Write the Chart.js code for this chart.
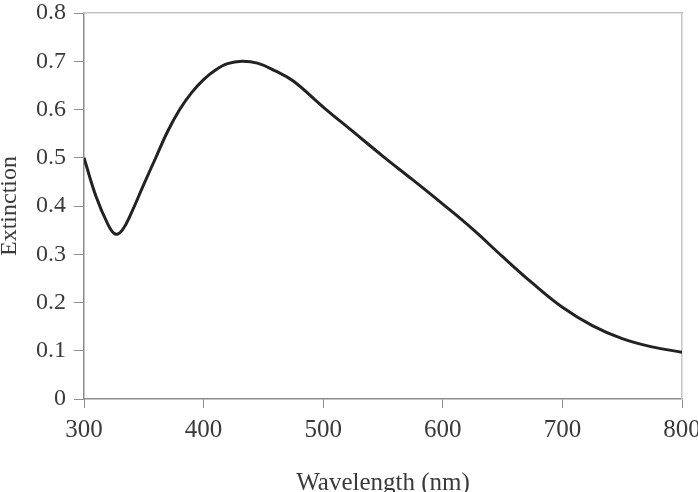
<!DOCTYPE html>
<html>
<head>
<meta charset="utf-8">
<script src="https://cdn.jsdelivr.net/npm/chart.js@4/dist/chart.umd.min.js"></script>
<style>
  html, body { margin: 0; padding: 0; background: #fff; overflow: hidden; }
  #wrap { width: 698px; height: 492px; }
</style>
</head>
<body>
<div id="wrap"><canvas id="chart"></canvas></div>
<script>
// Spectre d'extinction
const wavelengths = [300, 310, 320, 326, 332, 340, 350, 360, 370, 380, 390, 400, 410, 420, 432, 445, 460, 475, 500, 525, 550, 575, 600, 625, 650, 675, 700, 725, 750, 775, 800];
const extinction  = [0.50, 0.42, 0.362, 0.342, 0.35, 0.388, 0.445, 0.50, 0.555, 0.60, 0.635, 0.662, 0.682, 0.695, 0.70, 0.696, 0.68, 0.659, 0.605, 0.554, 0.503, 0.454, 0.404, 0.352, 0.295, 0.24, 0.19, 0.152, 0.125, 0.108, 0.097];

const xTicks = [300, 400, 500, 600, 700, 800];
const yTicks = [0, 0.1, 0.2, 0.3, 0.4, 0.5, 0.6, 0.7, 0.8];

const FONT = "'Liberation Serif', 'Times New Roman', serif";
const TEXT = "#3a3a3a";
const AXIS = "#8c8c8c";
const FRAME = "#c4c4c4";

new Chart(document.getElementById("chart"), {
  type: "line",
  data: {
    datasets: [{
      data: wavelengths.map((w, i) => ({ x: w, y: extinction[i] })),
      borderColor: "#222",
      borderWidth: 3,
      pointRadius: 0,
      fill: false,
      tension: 0.4
    }]
  },
  options: {
    responsive: true,
    maintainAspectRatio: false,
    animation: false,
    layout: { padding: { top: 13, right: 16, left: 0, bottom: 0 } },
    plugins: { legend: { display: false }, tooltip: { enabled: false } },
    scales: {
      x: {
        type: "linear",
        min: 300, max: 800,
        afterBuildTicks: s => { s.ticks = xTicks.map(v => ({ value: v })); },
        afterFit: s => { s.height = 93; s.paddingLeft = 0; s.paddingRight = 0; },
        ticks: { color: TEXT, font: { family: FONT, size: 25 }, padding: 7, maxRotation: 0 },
        grid: { drawOnChartArea: false, tickLength: 9, color: AXIS },
        border: { color: AXIS, width: 1.5 },
        title: { display: true, text: "Wavelength (nm)", color: TEXT, font: { family: FONT, size: 25 }, padding: { top: 0, bottom: -6 } }
      },
      y: {
        min: 0, max: 0.8,
        afterBuildTicks: s => { s.ticks = yTicks.map(v => ({ value: v })); },
        afterFit: s => { s.width = 84; s.paddingTop = 0; s.paddingBottom = 0; },
        ticks: { color: TEXT, font: { family: FONT, size: 24 }, padding: 8, callback: v => String(v) },
        grid: { drawOnChartArea: false, tickLength: 10, color: AXIS },
        border: { color: AXIS, width: 1.5 },
        title: { display: true, text: "Extinction", color: TEXT, font: { family: FONT, size: 24 }, padding: { top: -5, bottom: 0 } }
      },
      xTop: {
        type: "linear", position: "top", min: 300, max: 800,
        afterFit: s => { s.height = 0; s.paddingLeft = 0; s.paddingRight = 0; },
        ticks: { display: false },
        grid: { display: false },
        border: { color: FRAME, width: 1.5 }
      },
      yRight: {
        position: "right", min: 0, max: 0.8,
        afterFit: s => { s.width = 0; s.paddingTop = 0; s.paddingBottom = 0; },
        ticks: { display: false },
        grid: { display: false },
        border: { color: FRAME, width: 1.5 }
      }
    }
  }
});
</script>
</body>
</html>
